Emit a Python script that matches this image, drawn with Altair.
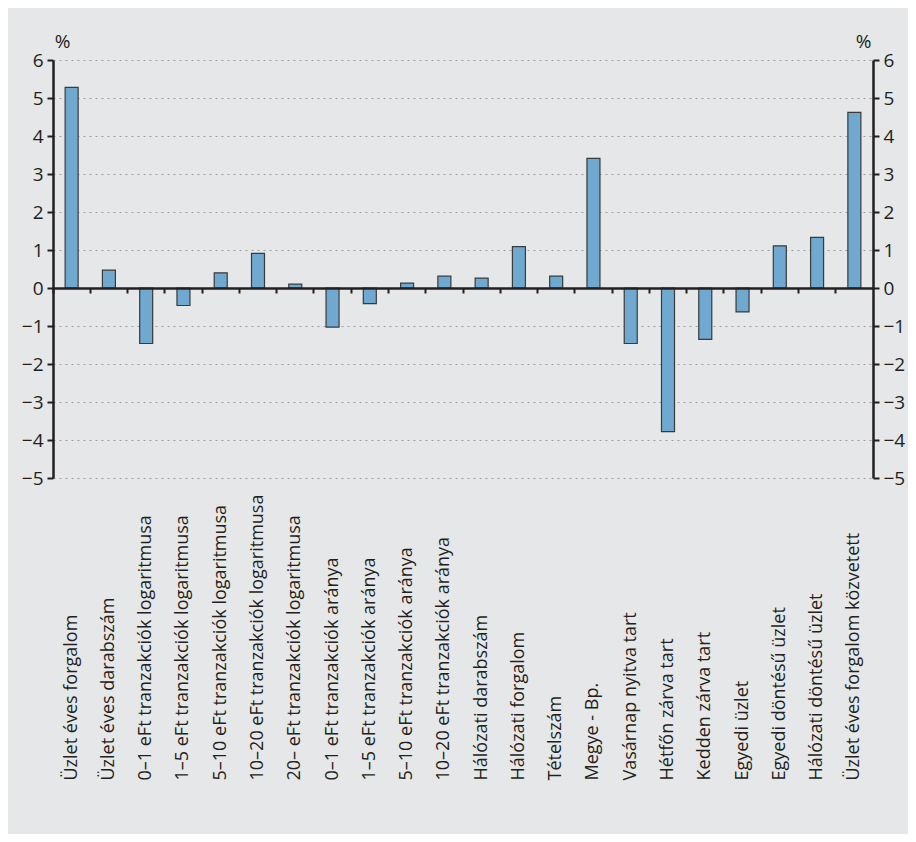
import altair as alt
import pandas as pd

categories = [
    "Üzlet éves forgalom",
    "Üzlet éves darabszám",
    "0–1 eFt tranzakciók logaritmusa",
    "1–5 eFt tranzakciók logaritmusa",
    "5–10 eFt tranzakciók logaritmusa",
    "10–20 eFt tranzakciók logaritmusa",
    "20– eFt tranzakciók logaritmusa",
    "0–1 eFt tranzakciók aránya",
    "1–5 eFt tranzakciók aránya",
    "5–10 eFt tranzakciók aránya",
    "10–20 eFt tranzakciók aránya",
    "Hálózati darabszám",
    "Hálózati forgalom",
    "Tételszám",
    "Megye - Bp.",
    "Vasárnap nyitva tart",
    "Hétfőn zárva tart",
    "Kedden zárva tart",
    "Egyedi üzlet",
    "Egyedi döntésű üzlet",
    "Hálózati döntésű üzlet",
    "Üzlet éves forgalom közvetett",
]
values = [5.28, 0.47, -1.46, -0.46, 0.40, 0.91, 0.10, -1.03, -0.41, 0.13, 0.31,
          0.26, 1.09, 0.31, 3.41, -1.46, -3.78, -1.35, -0.63, 1.11, 1.33, 4.62]
y_ticks = [-5, -4, -3, -2, -1, 0, 1, 2, 3, 4, 5, 6]

df = pd.DataFrame({"cat": categories, "val": values})

FONT = "Open Sans"
DARK = "#231f20"
lab_expr = "datum.value < 0 ? '\u2212' + abs(datum.value) : '' + datum.value"

x_scale = alt.Scale(paddingInner=0, paddingOuter=0)
y_scale = alt.Scale(domain=[-5, 6], nice=False, zero=False)

bars = alt.Chart(df).mark_bar(
    size=13, fill="#70a9cf", stroke="#3a3a3a", strokeWidth=1.2
).encode(
    x=alt.X("cat:N", sort=categories, scale=x_scale,
            axis=alt.Axis(orient="bottom", title=None, labelAngle=-90,
                          labelAlign="left", labelBaseline="middle",
                          labelPadding=302, ticks=False, domain=False,
                          labelFont=FONT, labelFontSize=18, labelColor=DARK,
                          labelLimit=0, grid=False)),
    y=alt.Y("val:Q", scale=y_scale,
            axis=alt.Axis(orient="left", values=y_ticks, labelExpr=lab_expr,
                          title="%", titleAngle=0, titleX=9, titleY=-19,
                          titleAlign="center", titleBaseline="middle",
                          titleFont=FONT, titleFontSize=19, titleFontWeight="normal",
                          titleColor=DARK,
                          labelFont=FONT, labelFontSize=19, labelColor=DARK,
                          labelPadding=4,
                          grid=True, gridDash=[2, 4], gridColor="#9d9d9d",
                          gridWidth=1.2,
                          domainColor=DARK, domainWidth=2.5,
                          tickColor=DARK, tickWidth=2, tickSize=6)),
)

frame = alt.Chart(df).mark_bar(opacity=0).encode(
    x=alt.X("cat:N", sort=categories, scale=x_scale,
            axis=alt.Axis(orient="bottom", title=None, labels=False,
                          bandPosition=0, offset=-190, ticks=True,
                          tickSize=5, tickWidth=2, tickColor=DARK,
                          domain=True, domainColor=DARK, domainWidth=2.5,
                          grid=False, zindex=1)),
    y=alt.Y("val:Q", scale=y_scale,
            axis=alt.Axis(orient="right", values=y_ticks, labelExpr=lab_expr,
                          title="%", titleAngle=0, titleX=-10, titleY=-19,
                          titleAlign="center", titleBaseline="middle",
                          titleFont=FONT, titleFontSize=19, titleFontWeight="normal",
                          titleColor=DARK,
                          labelFont=FONT, labelFontSize=19, labelColor=DARK,
                          labelPadding=4, grid=False,
                          domainColor=DARK, domainWidth=2.5,
                          tickColor=DARK, tickWidth=2, tickSize=6)),
)

chart = alt.layer(bars, frame).resolve_axis(
    x="independent", y="independent"
).properties(
    width=820, height=418,
    padding={"left": 45, "top": 52, "right": 35, "bottom": 356},
    autosize=alt.AutoSizeParams(type="none"),
    background="#e6e7e8",
).configure_view(stroke=None)

chart.save("out.html", embed_options={"renderer": "svg", "actions": False})
